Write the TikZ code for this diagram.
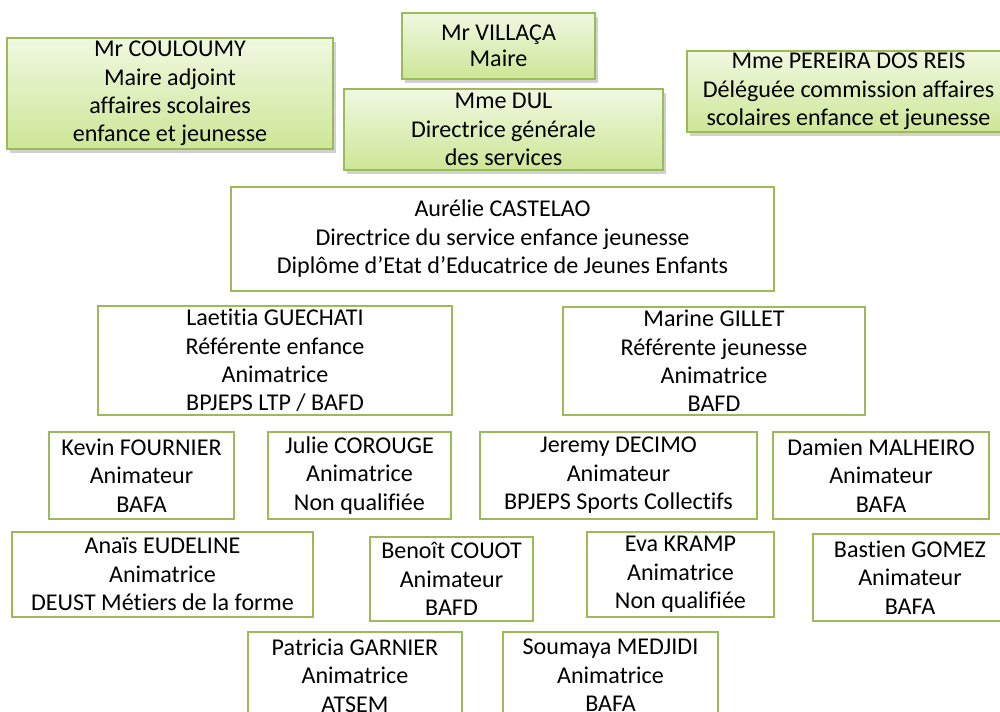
\documentclass[tikz,border=0pt]{standalone}
\usepackage{fontspec}
\setmainfont{Carlito}[Ligatures=NoCommon]
\usetikzlibrary{shadows}
\definecolor{olivegreen}{RGB}{155,187,89}
\definecolor{paletop}{RGB}{240,248,225}
\definecolor{palebottom}{RGB}{205,230,150}
\tikzset{
  elu/.style={draw=olivegreen, line width=1.1pt, top color=paletop, bottom color=palebottom,
    drop shadow={shadow xshift=0.6mm, shadow yshift=-0.7mm, opacity=0.3, fill=black!60},
    align=center, inner sep=0pt, font=\fontsize{13.7}{16.2}\selectfont},
  agent/.style={draw=olivegreen, line width=1.1pt, fill=white,
    align=center, inner sep=0pt, font=\fontsize{13.7}{16.2}\selectfont}
}
\begin{document}
\begin{tikzpicture}
    \useasboundingbox (0,0) rectangle (20,-14.22);
    \clip (0,0) rectangle (20,-14.22);
    \node[elu, minimum width=6.52cm, minimum height=2.22cm] (couloumy) at (3.40,-1.87) {Mr COULOUMY\\Maire adjoint\\affaires scolaires\\enfance et jeunesse};
    \node[elu, minimum width=3.86cm, minimum height=1.32cm, font=\fontsize{13.7}{14.5}\selectfont] (villaca) at (9.97,-0.92) {Mr VILLAÇA\\Maire};
    \node[elu, minimum width=6.38cm, minimum height=1.62cm] (dul) at (10.07,-2.59) {Mme DUL\\Directrice générale\\des services};
    \node[elu, minimum width=6.46cm, minimum height=1.62cm] (pereira) at (16.97,-1.83) {Mme PEREIRA DOS REIS\\Déléguée commission affaires\\scolaires enfance et jeunesse};
    \node[agent, minimum width=10.86cm, minimum height=2.08cm] (castelao) at (10.05,-4.78) {Aurélie CASTELAO\\Directrice du service enfance jeunesse\\Diplôme d’Etat d’Educatrice de Jeunes Enfants};
    \node[agent, minimum width=7.08cm, minimum height=2.18cm] (guechati) at (5.50,-7.21) {Laetitia GUECHATI\\Référente enfance\\Animatrice\\BPJEPS LTP / BAFD};
    \node[agent, minimum width=6.04cm, minimum height=2.16cm] (gillet) at (14.28,-7.22) {Marine GILLET\\Référente jeunesse\\Animatrice\\BAFD};
    \node[agent, minimum width=3.70cm, minimum height=1.74cm] (fournier) at (2.83,-9.51) {Kevin FOURNIER\\Animateur\\BAFA};
    \node[agent, minimum width=3.66cm, minimum height=1.74cm] (corouge) at (7.19,-9.51) {Julie COROUGE\\Animatrice\\Non qualifiée};
    \node[agent, minimum width=5.54cm, minimum height=1.74cm] (decimo) at (12.37,-9.51) {Jeremy DECIMO\\Animateur\\BPJEPS Sports Collectifs};
    \node[agent, minimum width=4.32cm, minimum height=1.74cm] (malheiro) at (17.62,-9.51) {Damien MALHEIRO\\Animateur\\BAFA};
    \node[agent, minimum width=6.02cm, minimum height=1.70cm] (eudeline) at (3.25,-11.49) {Anaïs EUDELINE\\Animatrice\\DEUST Métiers de la forme};
    \node[agent, minimum width=3.26cm, minimum height=1.68cm] (couot) at (9.03,-11.58) {Benoît COUOT\\Animateur\\BAFD};
    \node[agent, minimum width=3.74cm, minimum height=1.70cm] (kramp) at (13.61,-11.49) {Eva KRAMP\\Animatrice\\Non qualifiée};
    \node[agent, minimum width=3.88cm, minimum height=1.74cm] (gomez) at (18.20,-11.55) {Bastien GOMEZ\\Animateur\\BAFA};
    \node[agent, minimum width=4.28cm, minimum height=1.74cm] (garnier) at (7.10,-13.51) {Patricia GARNIER\\Animatrice\\ATSEM};
    \node[agent, minimum width=4.30cm, minimum height=1.74cm] (medjidi) at (12.21,-13.51) {Soumaya MEDJIDI\\Animatrice\\BAFA};
\end{tikzpicture}
\end{document}
